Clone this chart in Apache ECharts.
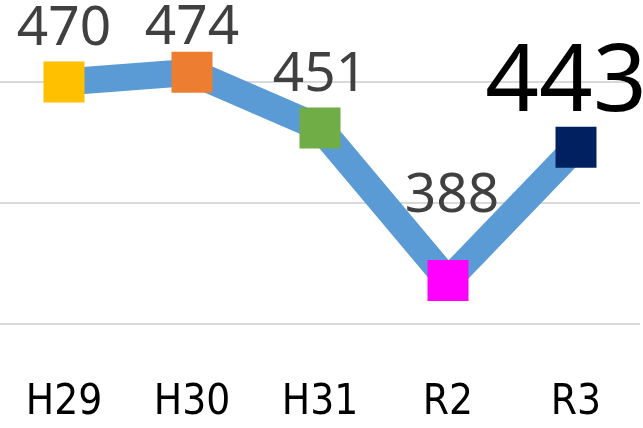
<!DOCTYPE html>
<html>
<head>
<meta charset="utf-8">
<style>
  html, body { margin: 0; padding: 0; background: #fff; }
  #chart { width: 643px; height: 428px; }
</style>
<script src="https://cdn.jsdelivr.net/npm/echarts@6/dist/echarts.min.js"></script>
</head>
<body>
<div id="chart"></div>
<script>
// 年度ごとの件数
const categories = ['H29', 'H30', 'H31', 'R2', 'R3'];
const values = [470, 474, 451, 388, 443];

// 見た目（マーカー色とラベル位置）
const markerColors = ['#FFC000', '#ED7D31', '#70AD47', '#FF00FF', '#002060'];
const labelOffsets = [[0, -53], [0, -44], [0, -53], [4, -84], [-10, -63]];

const chart = echarts.init(document.getElementById('chart'));

const seriesData = values.map((v, i) => {
  const last = i === values.length - 1;
  return {
    value: v,
    itemStyle: { color: markerColors[i] },
    label: {
      offset: labelOffsets[i],
      fontSize: last ? 94 : 55,
      color: last ? '#000000' : '#404040'
    }
  };
});

chart.setOption({
  animation: false,
  grid: { left: -9, right: 3, top: 82, bottom: 104 },
  xAxis: {
    type: 'category',
    data: categories,
    axisLine: { show: false },
    axisTick: { show: false },
    axisLabel: {
      margin: 58,
      fontSize: 42,
      fontFamily: "'DejaVu Sans Condensed', 'Noto Sans'",
      color: '#000'
    }
  },
  yAxis: {
    type: 'value',
    min: 370,
    max: 470,
    interval: 50,
    axisLabel: { show: false },
    axisLine: { show: false },
    axisTick: { show: false },
    splitLine: { lineStyle: { color: '#D9D9D9', width: 2 } }
  },
  series: [{
    type: 'line',
    data: seriesData,
    clip: false,
    symbol: 'rect',
    symbolSize: 41,
    lineStyle: { color: '#5B9BD5', width: 27 },
    label: {
      show: true,
      position: 'inside',
      fontFamily: 'Noto Sans',
      fontSize: 55
    }
  }]
});
</script>
</body>
</html>
